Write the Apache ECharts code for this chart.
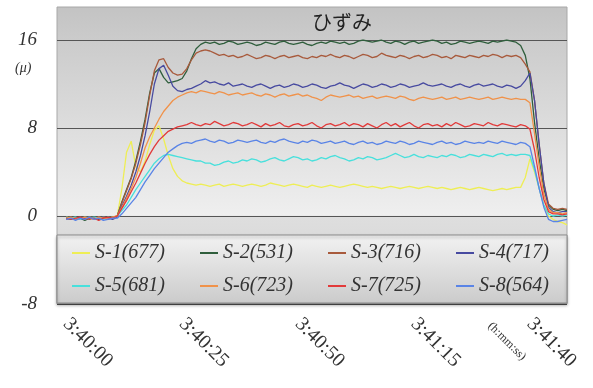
<!DOCTYPE html>
<html>
<head>
<meta charset="utf-8">
<script src="https://cdn.jsdelivr.net/npm/echarts@6/dist/echarts.min.js"></script>
<style>
html,body{margin:0;padding:0;background:#fff;}
#main{width:593px;height:388px;}
</style>
</head>
<body>
<div id="main"></div>
<script>
// series names and the time ticks that get a label
var names = ['S-1(677)', 'S-2(531)', 'S-3(716)', 'S-4(717)', 'S-5(681)', 'S-6(723)', 'S-7(725)', 'S-8(564)'];
var tickLabels = ['3:40:00', '3:40:25', '3:40:50', '3:41:15', '3:41:40'];

// one value per second, 3:40:00 .. 3:41:48
var s1 = [
  -0.1,-0.2,-0.1,-0.3,-0.2,-0.1,-0.2,-0.3,-0.1,-0.2,
  -0.1,0.0,2.5,5.8,6.8,4.5,4.0,5.0,6.5,7.8,
  8.2,7.0,5.5,4.3,3.6,3.2,3.0,2.9,2.8,2.9,
  2.8,2.7,2.8,2.9,2.7,2.8,2.9,2.8,2.7,2.8,
  2.9,2.8,2.7,2.8,3.0,2.9,2.8,2.7,2.8,2.9,
  2.8,2.7,2.6,2.8,2.7,2.6,2.7,2.8,2.7,2.6,
  2.7,2.8,2.9,2.8,2.7,2.6,2.7,2.6,2.5,2.6,
  2.7,2.6,2.5,2.6,2.7,2.6,2.5,2.6,2.7,2.6,
  2.5,2.6,2.5,2.4,2.5,2.6,2.5,2.4,2.5,2.6,
  2.5,2.4,2.3,2.4,2.5,2.4,2.5,2.6,2.6,3.5,
  5.2,4.0,2.5,1.0,0.0,-0.3,-0.5,-0.6,-0.8
];
var s2 = [
  -0.2,-0.3,-0.1,-0.2,-0.4,-0.2,-0.1,-0.3,-0.2,-0.1,
  -0.2,0.0,1.3,2.4,3.5,5.0,6.8,8.8,11.2,13.0,
  13.4,12.6,12.1,12.2,12.3,12.5,13.2,14.3,15.2,15.6,
  15.8,15.7,15.8,15.6,15.7,15.9,15.8,15.6,15.7,15.8,
  15.7,15.5,15.6,15.8,15.7,15.6,15.8,15.9,15.7,15.6,
  15.7,15.8,15.6,15.5,15.7,15.8,15.7,15.9,15.8,15.7,
  15.8,15.6,15.7,15.9,16.0,15.9,15.8,15.9,16.0,15.8,
  15.7,15.9,15.8,15.6,15.8,15.9,15.7,15.8,15.9,16.0,
  15.9,15.7,15.8,15.6,15.7,15.9,15.8,15.7,15.8,15.9,
  15.8,15.7,15.9,15.8,15.9,16.0,15.9,15.8,15.5,14.6,
  12.5,8.5,5.2,2.5,1.0,0.6,0.5,0.6,0.5
];
var s3 = [
  -0.1,-0.2,-0.3,-0.1,-0.2,-0.3,-0.2,-0.1,-0.2,-0.3,
  -0.1,0.0,1.2,2.3,3.4,4.8,6.5,8.5,11.0,13.2,
  14.2,14.3,13.5,13.0,12.8,12.9,13.4,14.2,14.8,15.0,
  15.1,15.0,14.8,14.6,14.7,14.5,14.6,14.4,14.5,14.7,
  14.5,14.3,14.4,14.6,14.5,14.3,14.5,14.6,14.4,14.5,
  14.6,14.4,14.3,14.5,14.4,14.6,14.5,14.7,14.5,14.4,
  14.6,14.5,14.3,14.5,14.7,14.6,14.4,14.5,14.8,14.6,
  14.5,14.4,14.6,14.5,14.3,14.5,14.6,14.4,14.5,14.7,
  14.6,14.4,14.5,14.3,14.6,14.5,14.4,14.6,14.5,14.4,
  14.6,14.5,14.7,14.6,14.4,14.6,14.5,14.6,14.4,13.8,
  13.1,10.5,6.5,3.0,1.1,0.7,0.6,0.7,0.6
];
var s4 = [
  -0.3,-0.2,-0.1,-0.3,-0.2,-0.1,-0.3,-0.2,-0.1,-0.2,
  -0.3,-0.1,0.9,1.8,2.8,4.0,5.5,7.3,9.5,12.0,
  13.4,13.7,12.8,11.8,11.4,11.3,11.5,11.6,11.8,12.0,
  12.3,12.1,12.2,12.0,11.9,12.1,11.8,11.9,12.0,11.8,
  11.7,11.9,12.0,11.8,11.6,11.8,11.9,11.7,11.8,12.0,
  11.9,11.7,11.8,12.0,11.9,11.7,11.6,11.8,11.9,12.1,
  11.9,11.8,11.6,11.8,12.0,11.9,11.7,11.8,12.0,11.9,
  11.7,11.8,12.0,11.9,11.7,11.8,11.9,12.1,11.9,11.8,
  11.9,12.0,11.8,11.7,11.9,12.0,11.8,11.7,11.9,12.0,
  11.8,11.9,12.0,11.8,11.7,11.9,11.8,11.6,11.8,12.3,
  13.0,10.5,6.5,3.0,0.8,0.4,0.3,0.4,0.4
];
var s5 = [
  -0.1,-0.2,-0.1,-0.3,-0.1,-0.2,-0.1,-0.2,-0.3,-0.1,
  -0.2,0.0,0.5,1.0,1.7,2.4,3.0,3.6,4.2,4.8,
  5.2,5.5,5.6,5.5,5.4,5.3,5.2,5.1,5.0,5.0,
  4.8,4.8,4.6,4.7,4.9,5.0,4.8,4.9,5.1,5.0,
  5.2,5.1,4.9,5.0,5.2,5.3,5.1,5.0,5.2,5.4,
  5.3,5.1,5.2,5.0,5.1,5.3,5.2,5.4,5.5,5.3,
  5.2,5.0,5.1,5.3,5.2,5.4,5.3,5.1,5.2,5.3,
  5.5,5.7,5.5,5.3,5.4,5.6,5.4,5.3,5.5,5.4,
  5.3,5.5,5.4,5.6,5.5,5.3,5.4,5.6,5.5,5.4,
  5.6,5.5,5.4,5.6,5.7,5.5,5.6,5.5,5.6,5.6,
  5.5,4.2,2.5,1.0,0.2,0.0,0.1,0.0,0.1
];
var s6 = [
  -0.2,-0.1,-0.3,-0.2,-0.1,-0.2,-0.3,-0.1,-0.2,-0.2,
  -0.1,0.0,0.8,1.6,2.5,3.5,4.8,6.2,7.2,8.0,
  8.8,9.5,10.0,10.5,10.8,11.0,11.2,11.3,11.2,11.4,
  11.3,11.2,11.1,11.3,11.2,11.0,11.1,11.2,11.0,11.1,
  11.2,11.0,10.9,11.1,11.0,10.8,11.0,11.1,10.9,11.0,
  11.1,10.9,11.0,10.8,10.7,10.5,10.8,11.0,10.9,10.8,
  10.9,11.0,10.8,10.9,10.7,10.8,10.9,10.7,10.8,10.9,
  10.8,10.7,10.9,10.8,10.6,10.5,10.7,10.8,10.7,10.6,
  10.7,10.8,10.6,10.7,10.8,10.6,10.7,10.8,10.7,10.6,
  10.7,10.8,10.6,10.7,10.8,10.7,10.6,10.7,10.6,10.6,
  10.3,7.5,4.5,2.0,0.6,0.3,0.3,0.2,0.3
];
var s7 = [
  -0.2,-0.3,-0.2,-0.1,-0.3,-0.2,-0.2,-0.4,-0.2,-0.1,
  -0.2,0.0,0.7,1.4,2.2,3.0,3.9,4.8,5.6,6.3,
  6.9,7.3,7.7,7.9,8.1,8.2,8.3,8.5,8.3,8.2,
  8.4,8.3,8.6,8.4,8.2,8.3,8.5,8.4,8.2,8.3,
  8.5,8.3,8.1,8.4,8.2,8.3,8.5,8.2,8.1,8.3,
  8.4,8.2,8.3,8.5,8.2,8.0,8.3,8.4,8.2,8.3,
  8.5,8.2,8.4,8.3,8.1,8.4,8.2,8.0,8.3,8.5,
  8.2,8.4,8.1,8.3,8.5,8.2,8.0,8.3,8.4,8.2,
  8.3,8.1,8.4,8.2,8.5,8.3,8.1,8.2,8.4,8.3,
  8.2,8.5,8.3,8.2,8.4,8.3,8.2,8.1,8.3,8.2,
  7.9,6.0,3.5,1.5,0.4,0.2,0.2,0.1,0.2
];
var s8 = [
  -0.3,-0.2,-0.4,-0.2,-0.3,-0.1,-0.3,-0.2,-0.4,-0.3,
  -0.2,-0.2,0.2,0.7,1.2,1.7,2.4,3.1,3.7,4.3,
  4.8,5.3,5.8,6.1,6.4,6.6,6.7,6.6,6.8,6.9,
  7.0,6.8,6.7,6.9,6.8,6.6,6.7,6.9,6.8,6.7,
  6.8,6.9,6.7,6.6,6.8,6.7,6.9,7.0,6.8,6.7,
  6.6,6.8,6.7,6.9,6.8,6.6,6.7,6.8,6.6,6.7,
  6.8,6.6,6.5,6.7,6.8,6.6,6.7,6.5,6.6,6.8,
  6.7,6.6,6.8,6.7,6.5,6.6,6.8,6.7,6.6,6.5,
  6.7,6.8,6.6,6.7,6.5,6.6,6.8,6.7,6.6,6.7,
  6.6,6.8,6.7,6.6,6.8,6.7,6.6,6.5,6.7,6.6,
  6.3,4.5,2.5,0.8,-0.3,-0.5,-0.5,-0.4,-0.3
];
var seriesValues = [s1, s2, s3, s4, s5, s6, s7, s8];
var colors = ['#eeee55', '#2f5e3c', '#a85a3c', '#474aa0', '#48e0dc', '#f0924a', '#e23a3a', '#5a84e6'];

// axis runs from 3:39:58 so the first reading sits a little inside the plot
var categories = [];
for (var t = -2; t <= 108; t++) {
  var sec = 3 * 3600 + 40 * 60 + t;
  var h = Math.floor(sec / 3600), m = Math.floor(sec % 3600 / 60), s = sec % 60;
  categories.push(h + ':' + (m < 10 ? '0' : '') + m + ':' + (s < 10 ? '0' : '') + s);
}

var serif = "'Liberation Serif', 'Times New Roman', serif";

var series = [];
for (var i = 0; i < names.length; i++) {
  series.push({
    name: names[i],
    type: 'line',
    symbol: 'none',
    data: [null, null].concat(seriesValues[i]),
    lineStyle: { width: 1.3, color: colors[i] },
    itemStyle: { color: colors[i] },
    z: 2
  });
}

var legendText = { fontFamily: serif, fontStyle: 'italic', fontSize: 20, color: '#333', width: 95, lineHeight: 20 };

var option = {
  animation: false,
  backgroundColor: '#fff',
  grid: { left: 57, right: 26, top: 40, bottom: 84 },
  xAxis: {
    type: 'category',
    boundaryGap: false,
    data: categories,
    axisLine: { show: false },
    axisTick: { show: false },
    splitLine: { show: false },
    axisLabel: {
      interval: function (idx, val) { return tickLabels.indexOf(val) >= 0; },
      rotate: -45,
      margin: 17,
      fontFamily: serif,
      fontSize: 20,
      color: '#333'
    }
  },
  yAxis: {
    type: 'value',
    min: -8,
    max: 16,
    interval: 8,
    axisLine: { show: false },
    axisTick: { show: false },
    axisLabel: { margin: 20, fontFamily: serif, fontStyle: 'italic', fontSize: 19, color: '#333' },
    splitLine: { lineStyle: { color: '#555', width: 1 } }
  },
  legend: [
    { data: names.slice(0, 4), left: 72, top: 243, padding: 0, icon: 'rect', itemWidth: 18, itemHeight: 2, itemGap: 10, textStyle: legendText, z: 5 },
    { data: names.slice(4), left: 72, top: 276, padding: 0, icon: 'rect', itemWidth: 18, itemHeight: 2, itemGap: 10, textStyle: legendText, z: 5 }
  ],
  graphic: [
    {
      type: 'rect', z: -10, silent: true,
      shape: { x: 57, y: 7, width: 510, height: 297 },
      style: {
        fill: new echarts.graphic.LinearGradient(0, 0, 0, 1, [
          { offset: 0, color: '#c3c3c3' },
          { offset: 0.11, color: '#cbcbcb' },
          { offset: 0.7, color: '#efefef' },
          { offset: 0.705, color: '#dedede' },
          { offset: 1, color: '#d2d2d2' }
        ]),
        stroke: '#a8a8a8', lineWidth: 1
      }
    },
    {
      type: 'rect', z: 3, silent: true,
      shape: { x: 57, y: 235, width: 510, height: 68 },
      style: {
        fill: new echarts.graphic.LinearGradient(0, 0, 0, 1, [
          { offset: 0, color: '#f2f2f2' },
          { offset: 1, color: '#cbcbcb' }
        ]),
        stroke: '#8a8a8a', lineWidth: 1,
        shadowBlur: 3, shadowOffsetY: 2, shadowColor: 'rgba(0,0,0,0.3)'
      }
    },
    {
      type: 'text', z: 5, left: 312, top: 12,
      style: { text: 'ひずみ', x: 0, y: 0, textAlign: 'center', fontFamily: "'Noto Sans CJK JP', sans-serif", fontSize: 20, fill: '#222' }
    },
    {
      type: 'text', z: 5, left: 15, top: 61,
      style: { text: '(μ)', fontFamily: serif, fontStyle: 'italic', fontSize: 14, fill: '#333' }
    },
    {
      type: 'text', z: 5, x: 494, y: 320, rotation: -Math.PI / 4,
      style: { text: '(h:mm:ss)', fontFamily: serif, fontSize: 12, fill: '#333' }
    }
  ],
  series: series
};

var chart = echarts.init(document.getElementById('main'));
chart.setOption(option);
</script>
</body>
</html>
